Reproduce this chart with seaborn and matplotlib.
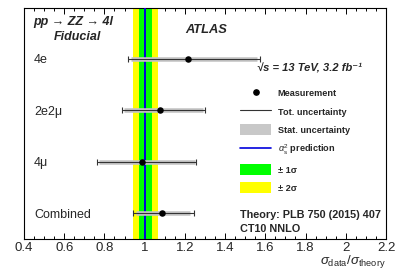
import numpy as np
import pandas as pd
import matplotlib
matplotlib.use("Agg")
import matplotlib.pyplot as plt
import seaborn as sns
from matplotlib.lines import Line2D
from matplotlib.patches import Patch
import matplotlib.transforms as mtransforms

# ---- data ----
channels = ["4e", "2e2\u03bc", "4\u03bc", "Combined"]
ratio = [1.217, 1.078, 0.989, 1.084]
tot_lo = [0.917, 0.886, 0.765, 0.942]
tot_hi = [1.575, 1.302, 1.254, 1.243]
stat_lo = [0.930, 0.896, 0.772, 0.955]
stat_hi = [1.560, 1.289, 1.248, 1.226]
pred = 1.0
band1 = [0.970, 1.037]
band2 = [0.942, 1.065]
xticks = [0.4, 0.6, 0.8, 1.0, 1.2, 1.4, 1.6, 1.8, 2.0, 2.2]
xtick_labels = ["0.4", "0.6", "0.8", "1", "1.2", "1.4", "1.6", "1.8", "2", "2.2"]

sns.set_style("ticks")
plt.rcParams["font.family"] = ["Liberation Sans", "DejaVu Sans"]
plt.rcParams["mathtext.fontset"] = "custom"
plt.rcParams["mathtext.rm"] = "Liberation Sans"
plt.rcParams["mathtext.it"] = "Liberation Sans:italic"
plt.rcParams["mathtext.bf"] = "Liberation Sans:bold"

W, H = 411, 279
fig = plt.figure(figsize=(W / 100, H / 100), dpi=100)
ax = fig.add_axes([24 / W, 1 - 239 / H, (386 - 24) / W, (239 - 8) / H])

df = pd.DataFrame({"channel": channels, "ratio": ratio, "pos": np.arange(len(channels))})

# bands
ax.axvspan(band2[0], band2[1], color="#ffff00", lw=0, zorder=1)
ax.axvspan(band1[0], band1[1], color="#00ff00", lw=0, zorder=2)
ax.axvline(pred, color="#0000dd", lw=1.4, zorder=3)

# stat uncertainty
ax.hlines(df["pos"], stat_lo, stat_hi, color="#c4c4c4", lw=3.3, zorder=4)
# total uncertainty
r = np.array(ratio)
ax.errorbar(r, df["pos"], xerr=[r - np.array(tot_lo), np.array(tot_hi) - r],
            fmt="none", ecolor="#333333", elinewidth=0.8, capsize=2.0,
            capthick=0.8, zorder=5)
sns.scatterplot(data=df, x="ratio", y="pos", ax=ax, color="black", s=22,
                edgecolor="black", linewidth=0, zorder=6, legend=False)

ax.set_xlim(0.4, 2.2)
ax.set_ylim(3.498, -0.983)
ax.set_xticks(xticks)
ax.set_xticklabels(xtick_labels, fontsize=9.5)
ax.set_xticks(np.arange(0.4, 2.2001, 0.05), minor=True)
ax.set_yticks([])
ax.set_xlabel("")
ax.set_ylabel("")
ax.tick_params(axis="x", which="major", direction="in", top=True, length=4.5,
               width=0.7, pad=2, labelsize=9.5, color="black")
ax.tick_params(axis="x", which="minor", direction="in", top=True, length=2.2,
               width=0.7, color="black")
for s in ax.spines.values():
    s.set_visible(True)
    s.set_linewidth(0.8)
    s.set_color("black")

# channel labels
tr = mtransforms.blended_transform_factory(ax.transAxes, ax.transData)
for i, c in enumerate(channels):
    ax.text(10 / 362, i, c, transform=tr, ha="left", va="center_baseline", fontsize=9)

def ft(x, y, s, **kw):
    fig.text(x / W, 1 - y / H, s, **kw)

ft(33, 25, "pp \u2192 ZZ \u2192 4l", fontsize=9, fontweight="bold", style="italic", va="baseline")
ft(54, 40, "Fiducial", fontsize=9, fontweight="bold", style="italic", va="baseline")
ft(185, 33, "ATLAS", fontsize=9.3, fontweight="bold", style="italic", va="baseline")
ft(257, 71.5, "\u221as = 13 TeV, 3.2 fb\u207b\u00b9", fontsize=8, fontweight="bold", style="italic", va="baseline")
ft(240, 218.3, "Theory: PLB 750 (2015) 407", fontsize=7.8, fontweight="bold", va="baseline")
ft(240, 231.7, "CT10 NNLO", fontsize=7.8, fontweight="bold", va="baseline")
ft(386, 262, r"$\sigma_{\rm data}/\sigma_{\rm theory}$", fontsize=9.5, ha="right", va="center")

handles = [
    Line2D([], [], ls="none", marker="o", color="black", markersize=3.8),
    Line2D([], [], color="#333333", lw=0.8),
    Patch(facecolor="#c8c8c8", edgecolor="none"),
    Line2D([], [], color="#0000dd", lw=1.2),
    Patch(facecolor="#00ff00", edgecolor="none"),
    Patch(facecolor="#ffff00", edgecolor="none"),
]
labels = ["Measurement", "Tot. uncertainty", "Stat. uncertainty",
          r"$\alpha_{\rm s}^{2}$ prediction", "\u00b1 1\u03c3", "\u00b1 2\u03c3"]
leg = fig.legend(handles, labels, loc="upper left",
                 bbox_to_anchor=(240 / W, 1 - 88 / H), frameon=False,
                 prop={"size": 6.6, "weight": "bold"}, handlelength=3.4,
                 handleheight=1.45, handletextpad=0.7, labelspacing=0.8,
                 borderpad=0, borderaxespad=0)

fig.savefig("out.png", dpi=100)
